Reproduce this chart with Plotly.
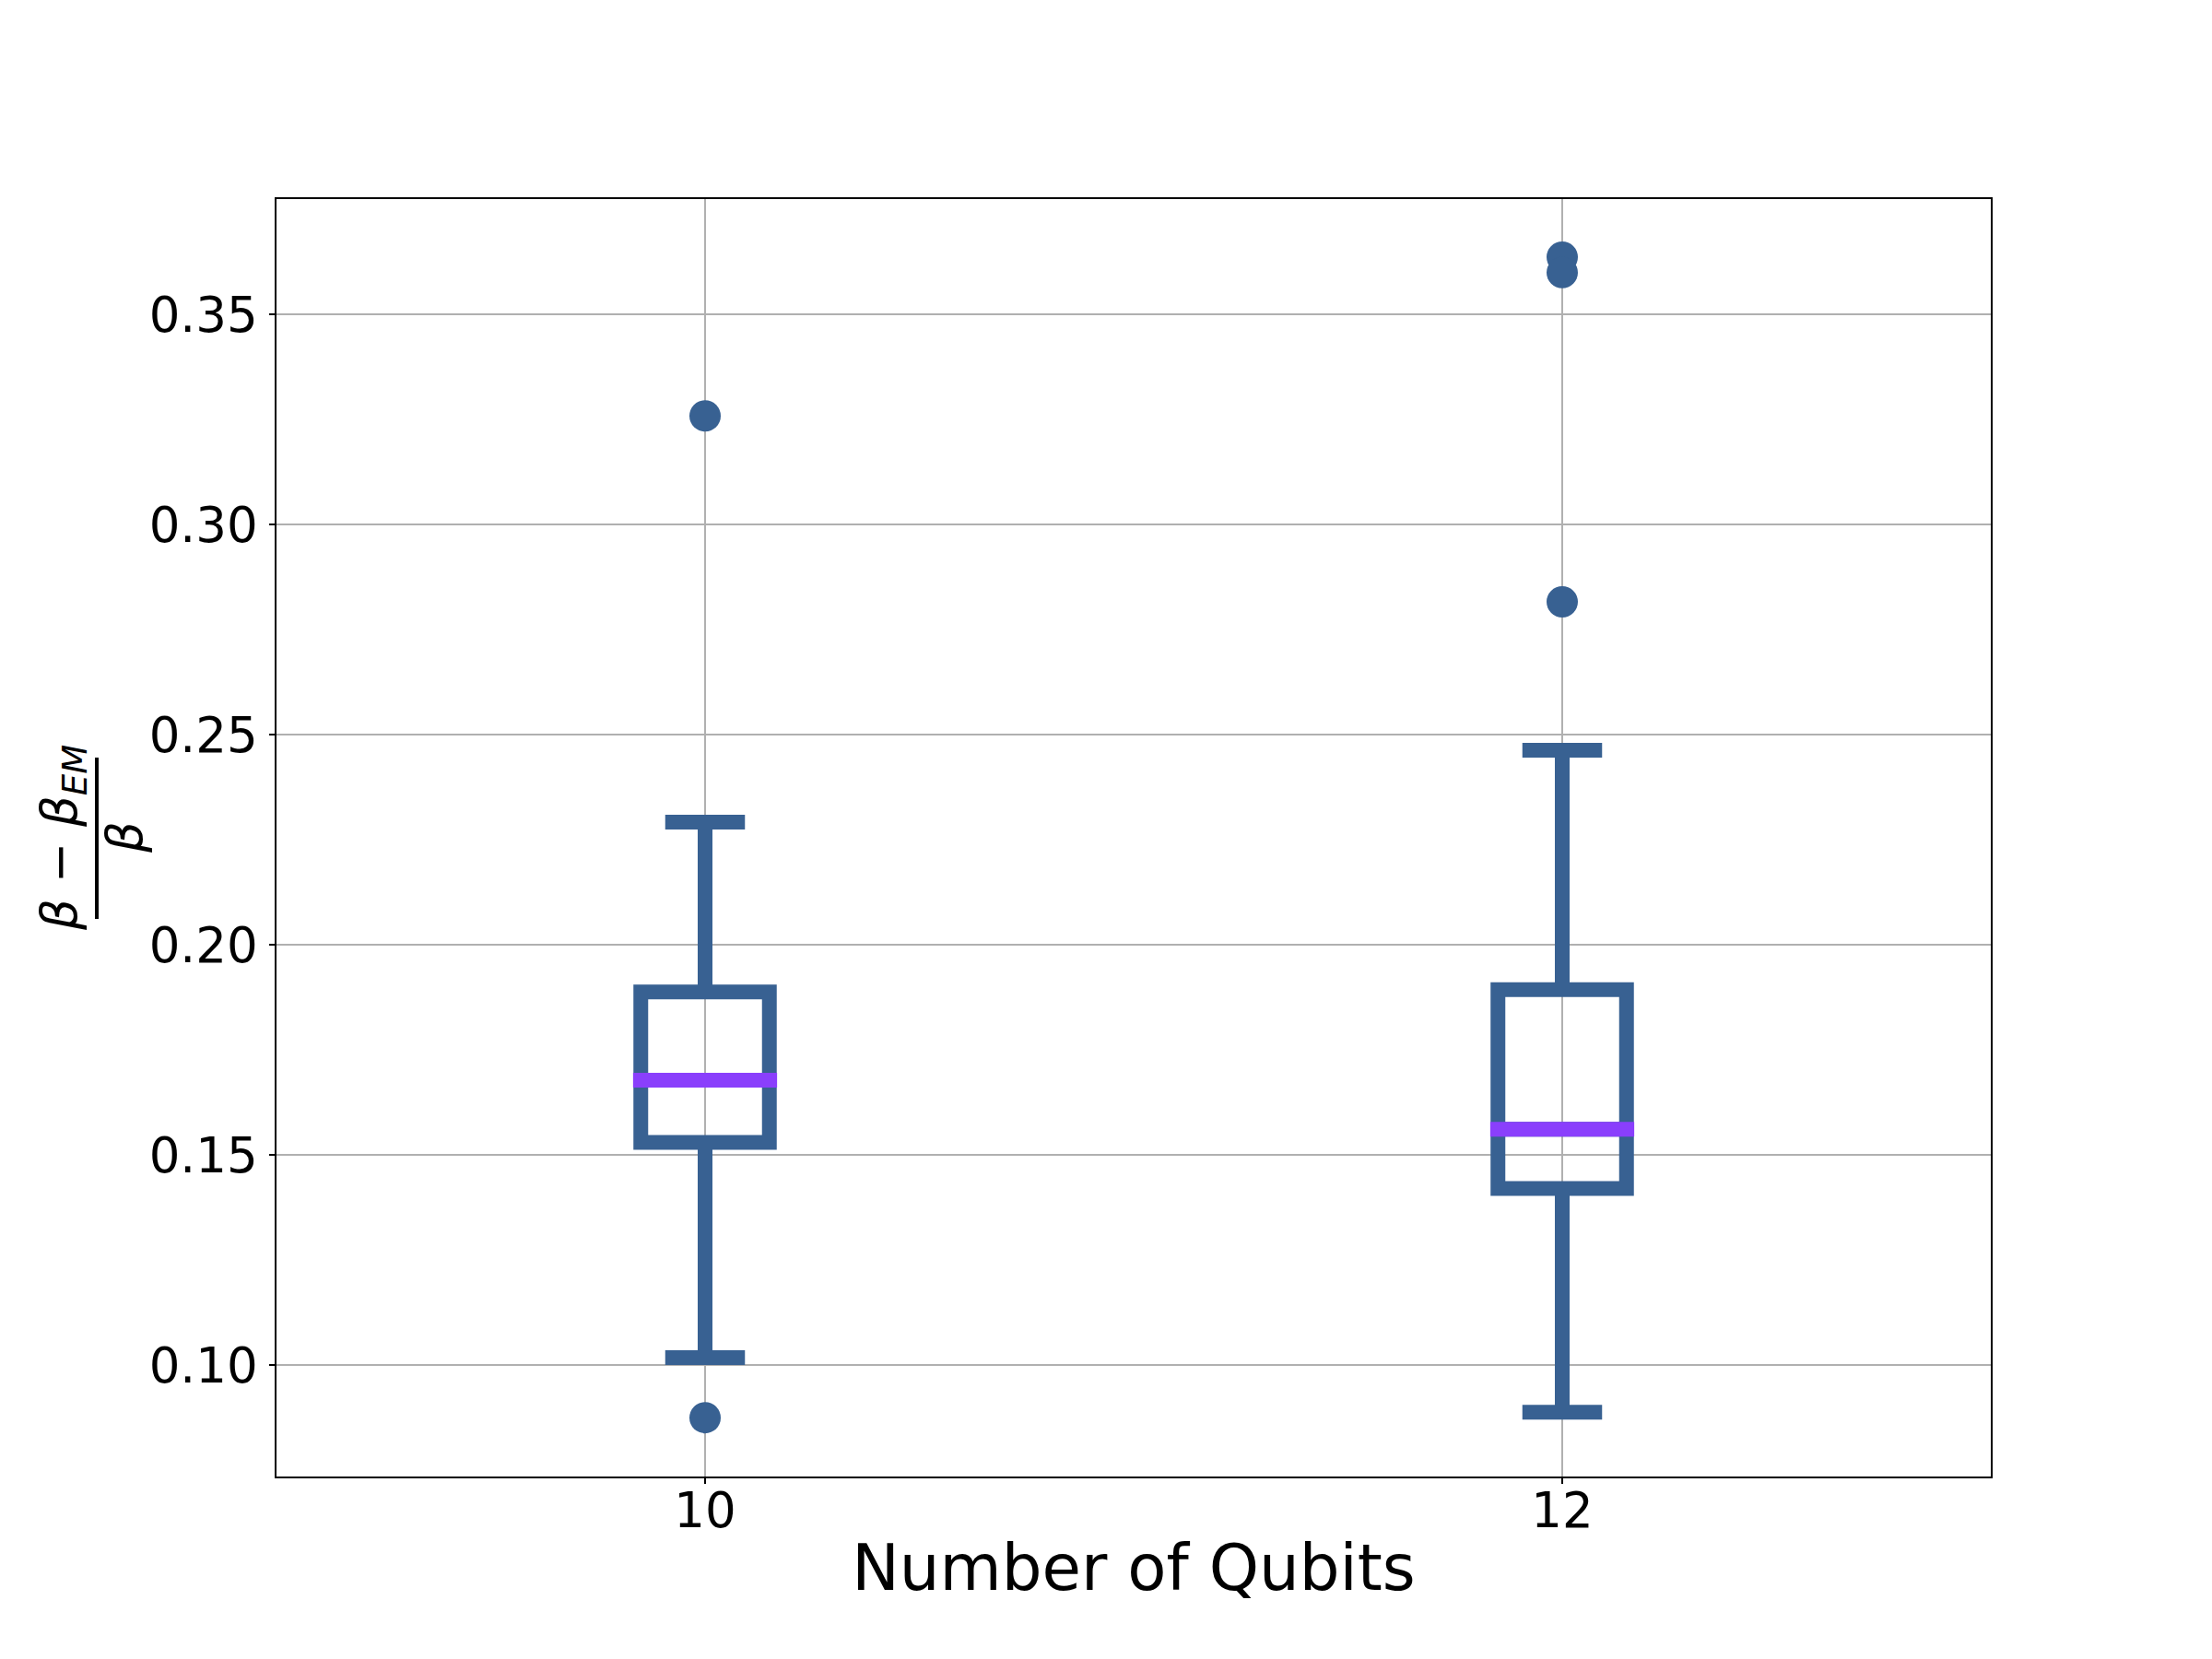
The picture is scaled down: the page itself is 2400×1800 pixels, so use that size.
import plotly.graph_objects as go

# ---- data ----
qubits = ["10", "12"]
q1 = [0.153, 0.142]
median = [0.1678, 0.1561]
q3 = [0.1888, 0.1893]
lower_whisker = [0.1018, 0.0888]
upper_whisker = [0.2292, 0.2463]
outliers = [[0.3258, 0.0875], [0.3636, 0.3599, 0.2816]]

BLUE = "#386192"
PURPLE = "#8A3FFC"
BOX_W = 0.15
LW = 16
FONT = "DejaVu Sans, Arial, sans-serif"

positions = list(range(len(qubits)))

fig = go.Figure()

for i, p in enumerate(positions):
    fig.add_trace(go.Box(
        x=[p], q1=[q1[i]], median=[median[i]], q3=[q3[i]],
        lowerfence=[lower_whisker[i]], upperfence=[upper_whisker[i]],
        width=BOX_W, whiskerwidth=0.62, boxpoints=False,
        line=dict(color=BLUE, width=LW), fillcolor="rgba(0,0,0,0)",
        showlegend=False, hoverinfo="skip",
    ))
    half = BOX_W / 2 + 0.009
    fig.add_trace(go.Scatter(
        x=[p - half, p + half], y=[median[i], median[i]], mode="lines",
        line=dict(color=PURPLE, width=LW), showlegend=False, hoverinfo="skip",
    ))
    fig.add_trace(go.Scatter(
        x=[p] * len(outliers[i]), y=outliers[i], mode="markers",
        marker=dict(color=BLUE, size=34, line=dict(width=0)),
        showlegend=False, hoverinfo="skip",
    ))

fig.update_layout(
    width=2400, height=1800,
    margin=dict(l=292, r=248, t=208, b=206),
    plot_bgcolor="white", paper_bgcolor="white",
    font=dict(family=FONT, color="black", size=53),
)

fig.update_xaxes(
    range=[-0.5, 1.5], tickvals=positions, ticktext=qubits,
    showgrid=True, gridcolor="#b0b0b0", gridwidth=1.5,
    showline=True, mirror=True, linecolor="black", linewidth=1.5,
    ticks="outside", ticklen=6, tickwidth=1.5, tickcolor="black",
    tickfont=dict(size=53, family=FONT), zeroline=False,
    ticklabelstandoff=-16,
    title=dict(text="Number of Qubits", font=dict(size=69, family=FONT), standoff=8),
)
fig.update_yaxes(
    range=[0.0735, 0.3774], tickvals=[0.10, 0.15, 0.20, 0.25, 0.30, 0.35],
    tickformat=".2f",
    showgrid=True, gridcolor="#b0b0b0", gridwidth=1.5,
    showline=True, mirror=True, linecolor="black", linewidth=1.5,
    ticks="outside", ticklen=6, tickwidth=1.5, tickcolor="black",
    tickfont=dict(size=53, family=FONT), zeroline=False,
    ticklabelstandoff=2,
)

# y-axis label as a rotated fraction: (β − β_EM) / β
fig.add_annotation(
    text="<i>β</i> − <i>β</i><sub><i>EM</i></sub>", textangle=-90,
    xref="paper", yref="paper", x=0, y=0.5, xshift=-232,
    xanchor="center", yanchor="middle", showarrow=False,
    font=dict(size=53, family=FONT),
)
fig.add_annotation(
    text="<i>β</i>", textangle=-90,
    xref="paper", yref="paper", x=0, y=0.5, xshift=-165,
    xanchor="center", yanchor="middle", showarrow=False,
    font=dict(size=53, family=FONT),
)
fig.add_shape(
    type="line", xref="paper", yref="paper",
    x0=-195 / 1860, x1=-195 / 1860, y0=0.4365, y1=0.5628,
    line=dict(color="black", width=4),
)

fig.write_html("out.html")
